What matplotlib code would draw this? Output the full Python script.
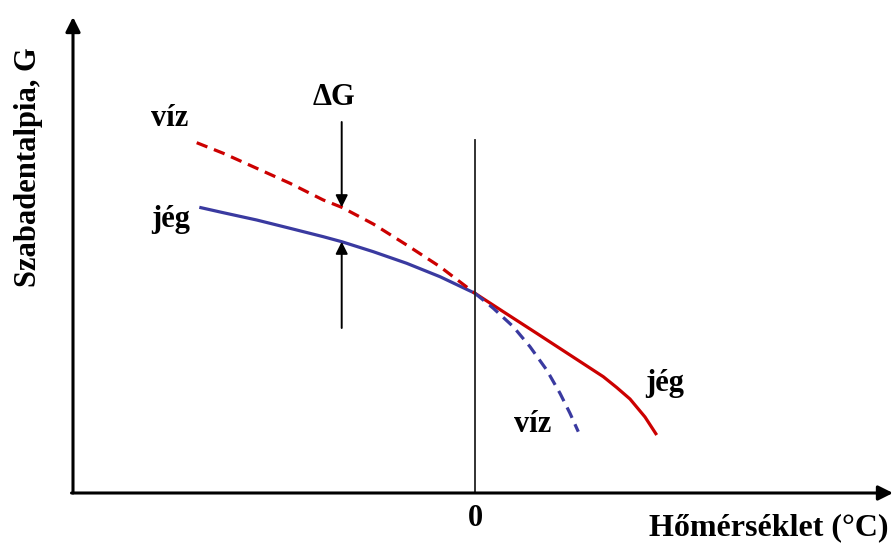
import matplotlib.pyplot as plt

plt.rcParams["font.family"] = ["Liberation Serif", "DejaVu Serif"]
plt.rcParams["font.weight"] = "bold"

# T (arbitrary units, 0 = 0 °C), G (arbitrary units)
ice_left_T = [-27.57, -25.17, -21.83, -18.5, -15.17, -13.33, -10.17, -6.83, -3.5, 0.0]
ice_left_G = [28.57, 28.03, 27.3, 26.47, 25.63, 25.13, 24.13, 22.97, 21.63, 19.97]
water_left_T = [-27.83, -25.17, -21.83, -18.5, -15.17, -13.33, -10.17, -6.83, -3.5, 0.0]
water_left_G = [35.03, 33.97, 32.47, 30.97, 29.3, 28.57, 26.9, 24.8, 22.63, 19.97]
ice_right_T = [0.0, 2.83, 6.17, 9.5, 12.83, 14.17, 15.5, 17.0, 18.17]
ice_right_G = [19.97, 18.13, 15.97, 13.8, 11.63, 10.55, 9.4, 7.6, 5.8]
water_right_T = [0.0, 1.83, 3.83, 5.5, 7.17, 8.5, 9.5, 10.33]
water_right_G = [19.97, 18.47, 16.63, 14.63, 12.3, 9.97, 7.97, 6.13]

arrow_T = -13.33
arrow_from = [37.1, 16.5]

fig = plt.figure(figsize=(8.94, 5.43), dpi=100)
ax = fig.add_axes([0, 0, 1, 1])
ax.set_xlim(-47.5, 41.9)
ax.set_ylim(-5.0, 49.3)
ax.axis("off")

red = "#cc0000"
blue = "#3a3aa0"
kw = dict(lw=2.3, solid_joinstyle="round", solid_capstyle="butt")

ax.plot(ice_left_T, ice_left_G, color=blue, **kw)
ax.plot(water_left_T, water_left_G, color=red, dashes=(3.6, 2.2), **kw)
ax.plot(ice_right_T, ice_right_G, color=red, **kw)
ax.plot(water_right_T, water_right_G, color=blue, dashes=(3.6, 2.2), **kw)

# axes with arrows
ax.annotate("", xy=(-40.2, 47.6), xytext=(-40.2, 0),
            arrowprops=dict(arrowstyle="-|>", color="black", lw=2.2, mutation_scale=22,
                            shrinkA=0, shrinkB=0))
ax.annotate("", xy=(41.8, 0), xytext=(-40.35, 0),
            arrowprops=dict(arrowstyle="-|>", color="black", lw=2.2, mutation_scale=22,
                            shrinkA=0, shrinkB=0))

# 0 °C line
ax.plot([0, 0], [0, 35.3], color="#222222", lw=1.3)

# delta G arrows
ax.annotate("", xy=(arrow_T, water_left_G[5]), xytext=(arrow_T, arrow_from[0]),
            arrowprops=dict(arrowstyle="-|>", color="black", lw=1.4, mutation_scale=18,
                            shrinkA=0, shrinkB=0))
ax.annotate("", xy=(arrow_T, ice_left_G[5]), xytext=(arrow_T, arrow_from[1]),
            arrowprops=dict(arrowstyle="-|>", color="black", lw=1.4, mutation_scale=18,
                            shrinkA=0, shrinkB=0))

fs = 22
ax.text(-30.5, 37.4, "víz", fontsize=fs, ha="center", va="center")
ax.text(-30.4, 27.3, "jég", fontsize=fs, ha="center", va="center")
ax.text(-14.1, 39.55, "ΔG", fontsize=fs, ha="center", va="center")
ax.text(19.0, 11.0, "jég", fontsize=fs, ha="center", va="center")
ax.text(5.8, 6.9, "víz", fontsize=fs, ha="center", va="center")
ax.text(0, -2.6, "0", fontsize=fs, ha="center", va="center")
ax.text(29.4, -3.5, "Hőmérséklet (°C)", fontsize=23, ha="center", va="center")
ax.text(-44.6, 32.6, "Szabadentalpia, G", fontsize=22, ha="center", va="center",
        rotation=90)

fig.savefig("out.png", dpi=100)
